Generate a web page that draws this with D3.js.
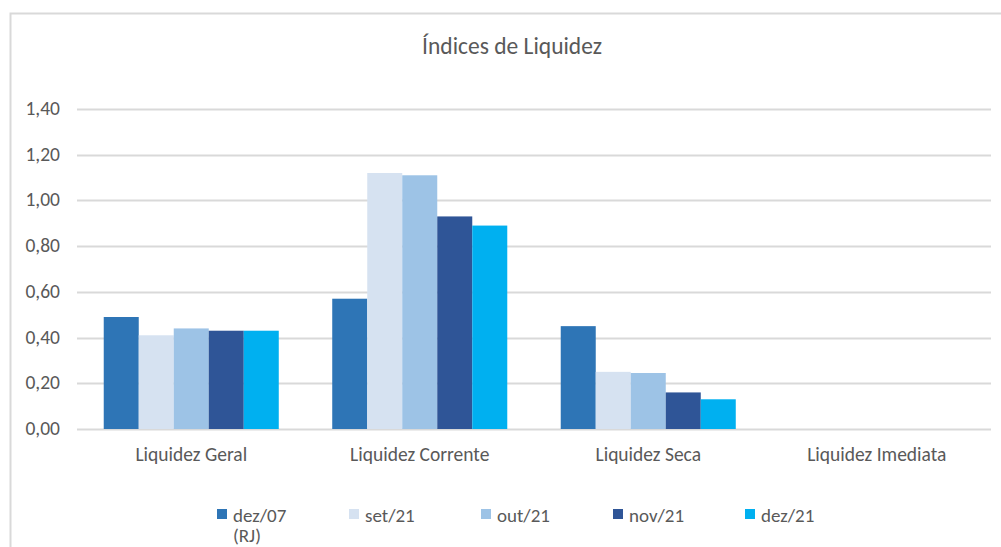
<!DOCTYPE html>
<html>
<head>
<meta charset="utf-8">
<script src="https://cdn.jsdelivr.net/npm/d3@7"></script>
<style>
  body { margin: 0; background: #fff; }
  text { font-family: Carlito, "Liberation Sans", sans-serif; fill: #595959; }
</style>
</head>
<body>
<svg id="chart" width="1001" height="547"></svg>
<script>
const categories = ["Liquidez Geral", "Liquidez Corrente", "Liquidez Seca", "Liquidez Imediata"];
const seriesNames = ["dez/07 (RJ)", "set/21", "out/21", "nov/21", "dez/21"];
const dez07 = [0.49, 0.57, 0.45, 0];
const set21 = [0.41, 1.12, 0.25, 0];
const out21 = [0.44, 1.11, 0.245, 0];
const nov21 = [0.43, 0.93, 0.16, 0];
const dez21 = [0.43, 0.89, 0.13, 0];
const yTicks = [0, 0.2, 0.4, 0.6, 0.8, 1.0, 1.2, 1.4];
const colors = ["#2E75B6", "#D6E2F1", "#9DC3E6", "#2F5597", "#00B0F0"];

const seriesValues = [dez07, set21, out21, nov21, dez21];

const svg = d3.select("#chart");

// chart frame
svg.append("rect")
  .attr("x", 10.5).attr("y", 13.5)
  .attr("width", 1000).attr("height", 560)
  .attr("fill", "none")
  .attr("stroke", "#d9d9d9")
  .attr("stroke-width", 2);

svg.append("text")
  .attr("x", 512).attr("y", 54)
  .attr("text-anchor", "middle")
  .style("font-size", "23.5px")
  .text("Índices de Liquidez");

const x0 = d3.scaleBand().domain(categories).range([77, 991]).paddingInner(0.234).paddingOuter(0.117);
const x1 = d3.scaleBand().domain(d3.range(seriesNames.length)).range([0, x0.bandwidth()]);
const y = d3.scaleLinear().domain([0, 1.4]).range([429, 109]);

const grid = svg.append("g");
grid.selectAll("line")
  .data(yTicks)
  .join("line")
  .attr("x1", 77).attr("x2", 991)
  .attr("y1", d => Math.round(y(d)) + 0.5)
  .attr("y2", d => Math.round(y(d)) + 0.5)
  .attr("stroke", "#d9d9d9")
  .attr("stroke-width", 2);

const fmt = d => d3.format(".2f")(d).replace(".", ",");
svg.append("g").selectAll("text")
  .data(yTicks)
  .join("text")
  .attr("x", 60)
  .attr("y", d => y(d) + 6)
  .attr("text-anchor", "end")
  .style("font-size", "19.5px")
  .text(fmt);

const groups = svg.append("g").selectAll("g")
  .data(categories)
  .join("g")
  .attr("transform", d => `translate(${x0(d)},0)`);

groups.selectAll("rect")
  .data((c, ci) => seriesValues.map((vals, si) => ({ si, v: vals[ci] })))
  .join("rect")
  .attr("x", d => x1(d.si))
  .attr("width", x1.bandwidth())
  .attr("y", d => y(d.v))
  .attr("height", d => y(0) - y(d.v))
  .attr("fill", d => colors[d.si]);

svg.append("g").selectAll("text")
  .data(categories)
  .join("text")
  .attr("x", d => x0(d) + x0.bandwidth() / 2)
  .attr("y", 461)
  .attr("text-anchor", "middle")
  .style("font-size", "19.5px")
  .text(d => d);

// legend
const legend = svg.append("g").selectAll("g")
  .data(seriesNames)
  .join("g")
  .attr("transform", (d, i) => `translate(${217 + i * 132},0)`);

legend.append("rect")
  .attr("x", 0).attr("y", 509)
  .attr("width", 10).attr("height", 10)
  .attr("fill", (d, i) => colors[i]);

legend.each(function (d) {
  const parts = d.split(" ");
  const t = d3.select(this).append("text")
    .attr("x", 16).attr("y", 522)
    .style("font-size", "19px");
  parts.forEach((p, k) => {
    t.append("tspan")
      .attr("x", 16)
      .attr("dy", k === 0 ? 0 : 20)
      .text(p);
  });
});
</script>
</body>
</html>
